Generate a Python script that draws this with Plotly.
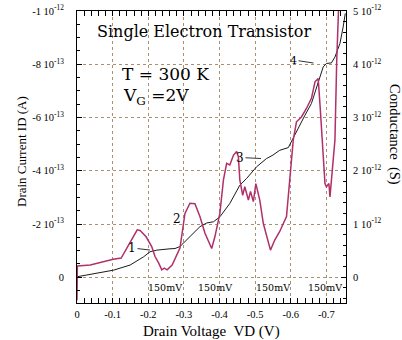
import numpy as np
import plotly.graph_objects as go

# ---------------- data ----------------
# Conductance curve (right axis), drain voltage in V, conductance in units of 1e-12 S
cond_vd = [0.0, -0.001, -0.037, -0.074, -0.102, -0.124, -0.141, -0.158, -0.169, -0.177,
           -0.194, -0.210, -0.219, -0.229, -0.238, -0.245, -0.253, -0.267, -0.281, -0.289,
           -0.303, -0.317, -0.331, -0.345, -0.359, -0.378, -0.387, -0.401, -0.411, -0.420,
           -0.429, -0.439, -0.448, -0.453, -0.457, -0.465, -0.471, -0.481, -0.487, -0.495,
           -0.502, -0.513, -0.523, -0.532, -0.543, -0.555, -0.569, -0.588, -0.597, -0.607,
           -0.616, -0.630, -0.644, -0.658, -0.668, -0.677, -0.683, -0.691, -0.696, -0.700,
           -0.707, -0.710, -0.716, -0.724, -0.729, -0.735]
cond_g = [-0.43, 0.21, 0.23, 0.29, 0.34, 0.36, 0.57, 0.77, 0.89, 0.88,
          0.76, 0.57, 0.39, 0.27, 0.14, 0.17, 0.14, 0.23, 0.42, 0.55,
          1.20, 1.39, 1.38, 1.14, 0.83, 0.54, 0.76, 1.20, 1.83, 2.14,
          2.11, 2.29, 2.36, 2.26, 1.83, 1.54, 1.70, 1.45, 1.61, 1.42,
          1.76, 1.45, 1.01, 0.76, 0.51, 0.70, 0.86, 1.14, 1.83, 2.58,
          2.92, 3.01, 3.17, 3.36, 3.67, 3.73, 3.14, 2.39, 1.76, 1.70,
          1.76, 1.51, 1.95, 2.58, 4.08, 5.20]

# Drain current curve (left axis), drain voltage in V, current in units of 1e-13 A
cur_vd = [0.0, -0.037, -0.075, -0.103, -0.149, -0.169, -0.187, -0.205, -0.224, -0.261,
          -0.275, -0.289, -0.317, -0.345, -0.364, -0.383, -0.401, -0.429, -0.457, -0.476,
          -0.504, -0.532, -0.550, -0.569, -0.593, -0.611, -0.640, -0.658, -0.677, -0.691,
          -0.700, -0.714, -0.724, -0.738, -0.747, -0.753]
cur_id = [-0.02, -0.105, -0.21, -0.27, -0.46, -0.61, -0.77, -0.96, -1.02, -1.07,
          -1.08, -1.155, -1.52, -1.90, -2.04, -2.085, -2.27, -2.775, -3.46, -3.71,
          -4.15, -4.46, -4.59, -4.77, -4.87, -5.36, -6.09, -6.53, -7.28, -7.90,
          -8.03, -8.05, -8.27, -8.78, -9.40, -9.91]

x_tickvals = [0, -0.1, -0.2, -0.3, -0.4, -0.5, -0.6, -0.7]
x_ticktext = ["0", "-0.1", "-0.2", "-0.3", "-0.4", "-0.5", "-0.6", "-0.7"]
left_tickvals = [0, -2e-13, -4e-13, -6e-13, -8e-13, -1e-12]
left_ticktext = ["0", "-2 10<sup>-13</sup>", "-4 10<sup>-13</sup>", "-6 10<sup>-13</sup>",
                 "-8 10<sup>-13</sup>", "-1 10<sup>-12</sup>"]
right_tickvals = [0, 1e-12, 2e-12, 3e-12, 4e-12, 5e-12]
right_ticktext = ["0", "1 10<sup>-12</sup>", "2 10<sup>-12</sup>", "3 10<sup>-12</sup>",
                  "4 10<sup>-12</sup>", "5 10<sup>-12</sup>"]
mv_labels = ["150mV", "150mV", "150mV", "150mV"]
mv_label_x = [0.327, 0.513, 0.730, 0.922]

# ---------------- figure ----------------
PINK = "#b0306a"
GRID = "#a89070"
SERIF = "Liberation Serif"
WIDE = "DejaVu Serif"

fig = go.Figure()
fig.add_trace(go.Scatter(x=cur_vd, y=np.array(cur_id) * 1e-13, mode="lines",
                         line=dict(color="#1a1a1a", width=1), yaxis="y",
                         hoverinfo="skip"))
fig.add_trace(go.Scatter(x=cond_vd, y=np.array(cond_g) * 1e-12, mode="lines",
                         line=dict(color=PINK, width=1.5), yaxis="y2",
                         hoverinfo="skip"))

axis_common = dict(showline=True, linecolor="black", linewidth=1, ticks="inside",
                   tickcolor="black", ticklen=5, zeroline=False, automargin=False,
                   tickfont=dict(family=SERIF, size=10.5, color="black"))

fig.update_layout(
    width=402, height=340,
    margin=dict(l=77, r=56, t=11, b=37, autoexpand=False),
    paper_bgcolor="white", plot_bgcolor="white",
    showlegend=False,
    xaxis=dict(range=[0, -0.755], tickvals=x_tickvals, ticktext=x_ticktext,
               mirror="allticks", showgrid=True, gridcolor=GRID, griddash="dot",
               gridwidth=1, ticklabelstandoff=1,
               minor=dict(dtick=0.02, tick0=0, ticks="inside", ticklen=3,
                          tickcolor="black", showgrid=False),
               **axis_common),
    yaxis=dict(range=[0.0965e-12, -1e-12], tickvals=left_tickvals, ticktext=left_ticktext,
               showgrid=True, gridcolor=GRID, griddash="dot", gridwidth=1,
               ticklabelstandoff=10,
               minor=dict(dtick=0.5e-13, tick0=0, ticks="inside", ticklen=3,
                          tickcolor="black", showgrid=False),
               **axis_common),
    yaxis2=dict(range=[-0.483e-12, 5e-12], overlaying="y", side="right",
                tickvals=right_tickvals, ticktext=right_ticktext, showgrid=False,
                ticklabelstandoff=4,
                minor=dict(dtick=0.2e-12, tick0=0, ticks="inside", ticklen=3,
                           tickcolor="black", showgrid=False),
                **axis_common),
)


def label(text, px, py, size, family=WIDE, xanchor="center", **kw):
    """Annotation placed by reference pixel position (plot area 77..346 x 11..303)."""
    return dict(text=text, x=(px - 77) / 269, y=(303 - py) / 292, xref="paper", yref="paper",
                xanchor=xanchor, yanchor="middle", showarrow=kw.pop("showarrow", False),
                font=dict(family=family, size=size, color="black"), **kw)


ann = []
ann.append(label("Single Electron Transistor", 204, 32, 16))
ann.append(label("T = 300 K", 120, 74, 17, xanchor="left"))
ann.append(label("V<sub>G</sub> =2V", 121, 96, 17, xanchor="left"))
for t, xx in zip(mv_labels, mv_label_x):
    ann.append(label(t, 77 + xx * 269, 287, 9.5))
# curve labels with leader lines
arrow = dict(showarrow=True, arrowhead=0, arrowwidth=0.8, arrowcolor="black")
ann.append(label("1", 150, 250, 12, ax=-18, ay=-2, **arrow))
ann.append(label("2", 176.7, 219, 12))
ann.append(label("3", 261, 158.5, 12, ax=-21, ay=-1, **arrow))
ann.append(label("4", 313.5, 63, 11, ax=-20, ay=-3, **arrow))
# axis titles
ann.append(label("Drain Voltage  VD (V)", 211, 331, 15, family=SERIF))
ann.append(label("Drain Current ID (A)", 21, 152, 13, family=SERIF, textangle=-90))
ann.append(label("Conductance  (S)", 395, 134, 14.5, family=SERIF, textangle=90))
fig.update_layout(annotations=ann)

fig.write_html("out.html", config={"displayModeBar": False},
               post_script="document.body.style.margin='0px';")
